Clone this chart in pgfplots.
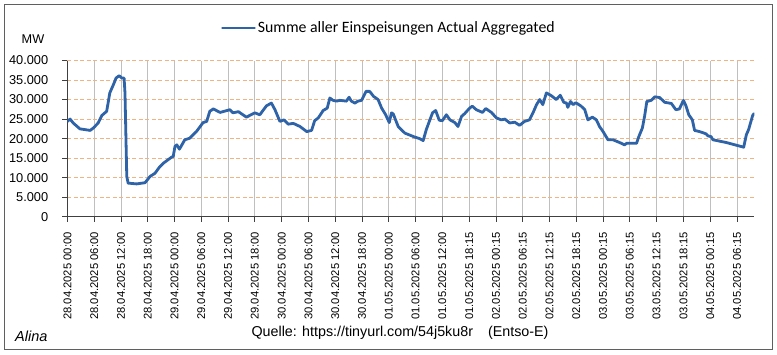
\documentclass[border=0pt]{standalone}
\usepackage{fontspec}
\setmainfont{Liberation Sans}
\newfontfamily\calibri{Carlito}
\usepackage{pgfplots}
\pgfplotsset{compat=1.18}
\definecolor{lineblue}{RGB}{46,99,168}
\definecolor{gridorange}{RGB}{240,180,130}
\definecolor{gridgray}{RGB}{191,191,191}
\definecolor{axisgray}{RGB}{64,64,64}
\definecolor{framegray}{RGB}{95,95,95}
\begin{document}
\begin{tikzpicture}[x=1pt,y=1pt]
\useasboundingbox (0,0) rectangle (777,354);
\fill[white] (0,0) rectangle (777,354);
\draw[framegray, line width=0.9pt] (4.3,4.7) rectangle (772,349.7);
\begin{axis}[
  at={(67.4pt,137.3pt)}, anchor=south west,
  scale only axis, width=687pt, height=156.2pt,
  xmin=0, xmax=153.9, ymin=0, ymax=40000,
  axis x line*=bottom, axis y line*=left,
  axis line style={axisgray, line width=0.8pt, -},
  tick style={axisgray, line width=0.8pt},
  tick align=outside, major tick length=5pt,
  xtick={0,6,...,150},
  xticklabels={28.04.2025 00:00,28.04.2025 06:00,28.04.2025 12:00,28.04.2025 18:00,29.04.2025 00:00,29.04.2025 06:00,29.04.2025 12:00,29.04.2025 18:00,30.04.2025 00:00,30.04.2025 06:00,30.04.2025 12:00,30.04.2025 18:00,01.05.2025 00:00,01.05.2025 06:00,01.05.2025 12:00,01.05.2025 18:15,02.05.2025 00:15,02.05.2025 06:15,02.05.2025 12:15,02.05.2025 18:15,03.05.2025 00:15,03.05.2025 06:15,03.05.2025 12:15,03.05.2025 18:15,04.05.2025 00:15,04.05.2025 06:15},
  ytick={0,5000,...,40000},
  scaled y ticks=false,
  /pgf/number format/.cd, 1000 sep={.}, assume math mode=true, /pgfplots/.cd,
  xticklabel style={rotate=90, anchor=east, inner sep=0pt, font=\fontsize{11.2}{11.2}\selectfont},
  yticklabel style={anchor=east, inner sep=0pt, font=\fontsize{12.8}{12.8}\selectfont},
  xticklabel shift=10.5pt, yticklabel shift=14pt,
  xmajorgrids, ymajorgrids,
  x grid style={gridgray, line width=0.8pt},
  y grid style={gridorange, line width=0.8pt, dash pattern=on 4pt off 2.5pt},
  legend style={at={(axis description cs:0.468,1.208)}, anchor=center, draw=none, fill=none,
    font=\calibri\fontsize{15.8}{15.8}\selectfont, inner sep=0pt},
  legend image code/.code={\draw[#1] (0pt,0pt) -- (32pt,0pt);},
]
\addplot[lineblue, line width=2.8pt, line join=round, line cap=round] coordinates {
(0,24400)(0.6,25000)(1.3,24000)(2.8,22500)(5.1,22100)(5.8,22700)(6.9,24000)(7.7,25900)
(8.8,27000)(9.5,31700)(10.3,33800)(10.9,35500)(11.6,36100)(12.2,35500)(12.7,35500)(12.9,31700)
(13.3,10300)(13.6,8600)(15.5,8400)(17.4,8700)(18.5,10300)(19.6,11100)(20.7,12800)(21.5,13700)
(23.4,15300)(23.7,15400)(24.1,18000)(24.5,18400)(25.1,17300)(26.3,19700)(27.4,20100)(28.9,21800)
(30.4,24100)(31.2,24400)(31.9,27000)(32.7,27600)(34.2,26700)(36.4,27400)(37.1,26600)(38.3,26900)
(40.1,25500)(42.0,26600)(43.1,26100)(44.6,28400)(45.7,29100)(46.5,27400)(47.6,24400)(48.5,24800)
(49.5,23700)(50.6,23900)(52.1,23100)(53.6,21800)(54.7,22100)(55.4,24600)(56.2,25300)(57.3,27200)
(58.2,27800)(58.8,30400)(59.5,29800)(60.3,29600)(61.0,29800)(62.5,29600)(63.1,30600)(63.6,29600)
(64.4,29100)(65.1,29600)(65.9,29800)(66.9,32100)(67.7,32100)(68.6,30800)(69.6,30000)(70.4,27800)
(71.3,26100)(72.1,24100)(72.6,26600)(73.0,26300)(74.1,23100)(75.6,21400)(76.7,20900)(77.8,20400)
(78.9,20000)(79.7,19500)(80.4,22300)(81.2,24800)(81.8,26600)(82.5,27200)(83.3,24700)(84.0,24600)
(84.9,26100)(85.7,24800)(86.8,24100)(87.5,23100)(88.3,25700)(89.0,26400)(90.1,27800)(90.7,28300)
(91.6,27400)(93.0,26700)(93.7,27700)(95.0,26700)(96.1,25300)(97.2,24800)(98.0,25000)(99.1,24000)
(100.2,24200)(101.3,23400)(102.4,24400)(103.5,24800)(104.3,26600)(105.1,28700)(105.8,30000)(106.5,28700)
(107.3,31700)(108.4,31000)(109.5,30000)(110.4,31100)(111.2,29300)(111.8,29100)(112.1,28000)(112.7,29500)
(113.3,28700)(113.9,29200)(115.1,28300)(115.9,27400)(116.6,24800)(117.6,25500)(118.5,24800)(119.2,23100)
(120.0,21800)(121.1,19700)(122.2,19700)(123.7,19000)(124.8,18400)(125.3,18800)(127.5,18800)(128.0,20500)
(128.8,22700)(129.3,25700)(129.8,29500)(130.8,29800)(131.6,30700)(132.7,30500)(133.8,29300)(135.3,29000)
(136.3,27400)(137.1,27600)(138.0,29800)(138.6,28300)(139.2,26100)(140.0,24800)(140.5,22100)(141.6,21800)
(142.4,21500)(143.1,21200)(143.5,20700)(144.2,20500)(144.6,19700)(147.6,19000)(150.2,18200)(151.5,17800)
(152.1,21000)(152.6,22300)(153.5,25900)(153.8,26400)
};
\addlegendentry{Summe aller Einspeisungen Actual Aggregated}
\end{axis}
\node[font=\fontsize{12.7}{12.7}\selectfont] at (33,315) {MW};
\node[anchor=west, font=\itshape\fontsize{14.5}{14.5}\selectfont, inner sep=0pt] at (15,17.3) {Alina};
\node[font=\fontsize{14.3}{14.3}\selectfont, inner sep=0pt] at (400,20.7) {Quelle: https://tinyurl.com/54j5ku8r\hspace{15pt}(Entso-E)};
\end{tikzpicture}
\end{document}
